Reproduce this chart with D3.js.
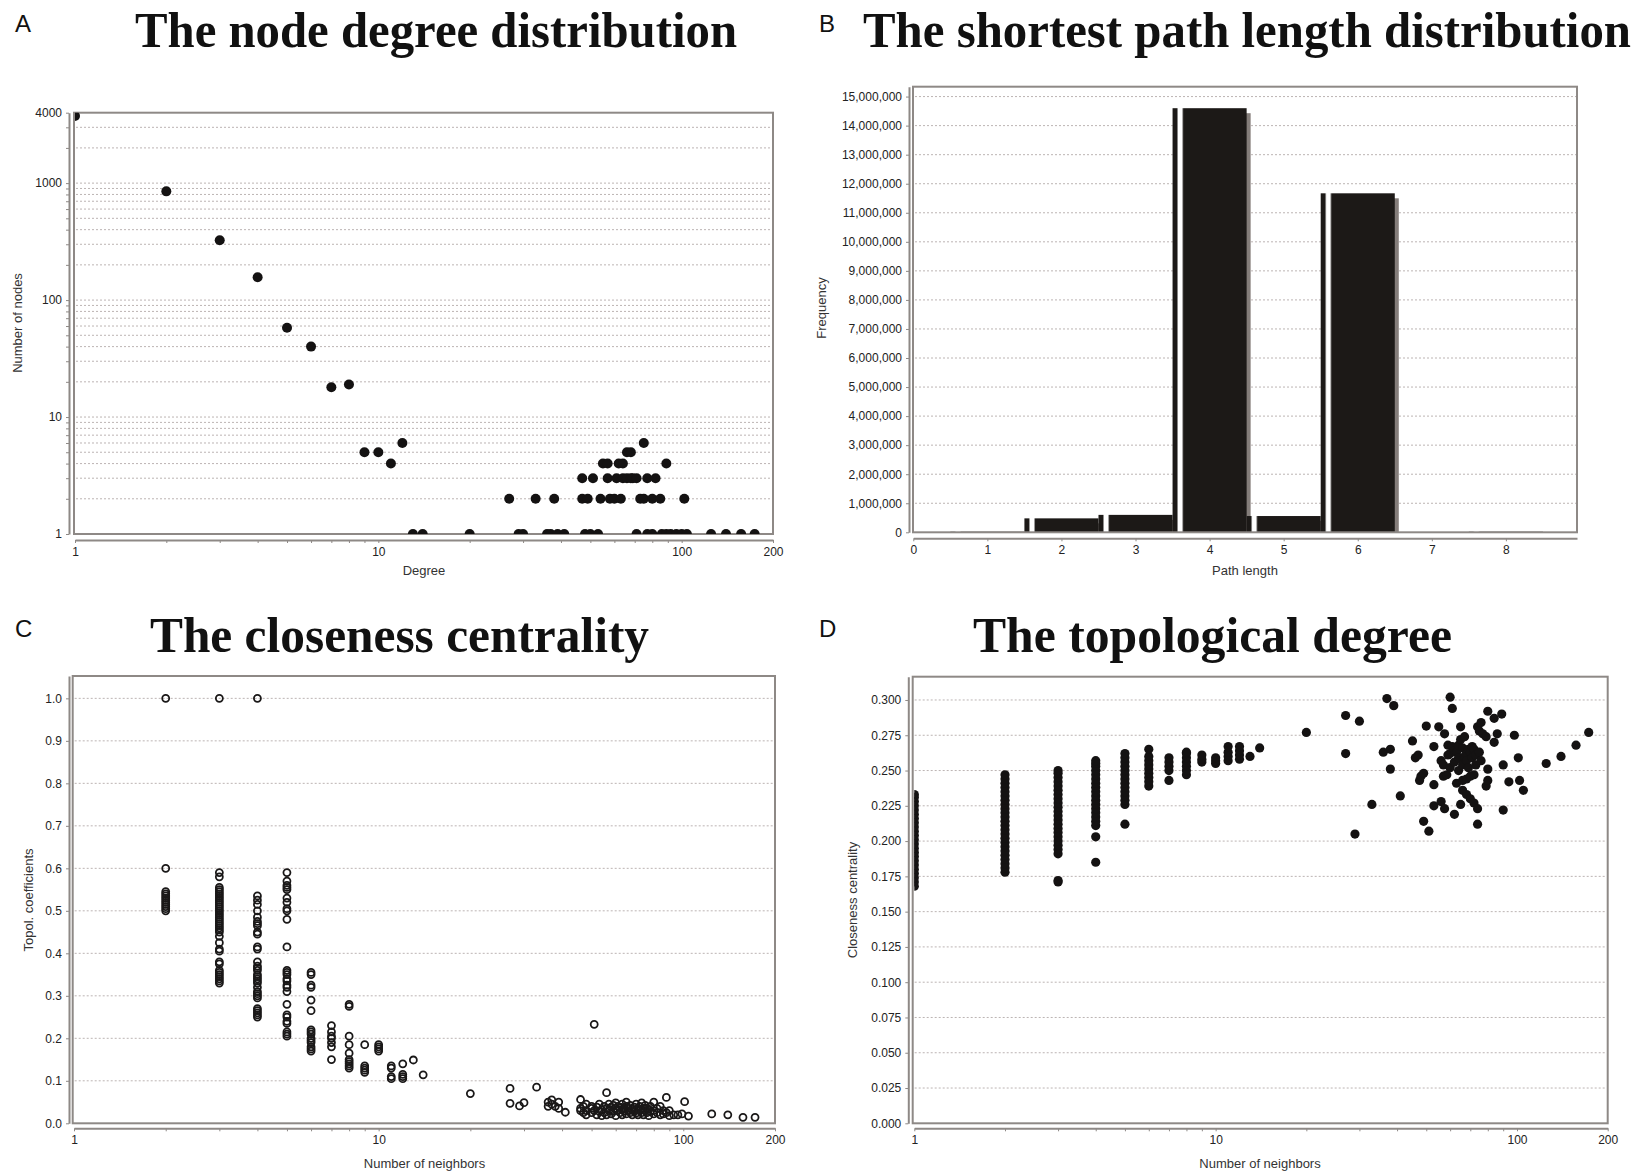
<!DOCTYPE html>
<html><head><meta charset="utf-8">
<script src="https://cdn.jsdelivr.net/npm/d3@7"></script>
<style>
body{margin:0;background:#fff;}
text{font-family:"Liberation Sans",Arial,sans-serif;}
</style>
</head><body>
<script>
// ---------- DATA ----------
// Panel A: node degree distribution
const degreeA = [1,2,3,4,5,6,7,8,9,10,11,12,
  13,14,20,29,30,36,37,39,41,48,50,53,71,77,80,86,89,92,96,100,104,125,140,157,174,
  27,33,38,47,49,54,58,60,63,73,75,80,85,102,
  47,51,57,61,64,66,68,69,71,77,82,
  55,57,62,64,89,
  66,68,
  75];
const nodesA = [3750,850,325,157,58,40,18,19,5,5,4,6,
  1,1,1,1,1,1,1,1,1,1,1,1,1,1,1,1,1,1,1,1,1,1,1,1,1,
  2,2,2,2,2,2,2,2,2,2,2,2,2,2,
  3,3,3,3,3,3,3,3,3,3,3,
  4,4,4,4,4,
  5,5,
  6];
const yLabelsA = [1,10,100,1000,4000];
const xLabelsLog = [1,10,100,200];

// Panel B: shortest path length distribution
const pathLength = [1,2,3,4,5,6,7,8];
const pathFreq = [20000,480000,600000,14600000,560000,11670000,5000,20000];

// Panel C: topological coefficients vs number of neighbours [neighbours, coefficient]
const topolPoints = [
 [2,1.0],[2,0.6],[2,0.545],[2,0.54],[2,0.535],[2,0.53],[2,0.525],[2,0.52],[2,0.515],[2,0.51],[2,0.505],[2,0.5],
 [3,1.0],[3,0.59],[3,0.58],[3,0.555],[3,0.55],[3,0.545],[3,0.54],[3,0.535],[3,0.53],[3,0.525],[3,0.52],[3,0.515],[3,0.51],[3,0.505],[3,0.5],[3,0.495],[3,0.49],[3,0.485],[3,0.48],[3,0.475],[3,0.47],[3,0.465],[3,0.46],[3,0.455],[3,0.45],[3,0.44],[3,0.425],[3,0.41],[3,0.405],[3,0.38],[3,0.375],[3,0.36],[3,0.355],[3,0.35],[3,0.345],[3,0.34],[3,0.335],[3,0.33],
 [4,1.0],[4,0.535],[4,0.525],[4,0.515],[4,0.5],[4,0.485],[4,0.475],[4,0.47],[4,0.465],[4,0.45],[4,0.445],[4,0.415],[4,0.41],[4,0.38],[4,0.37],[4,0.365],[4,0.36],[4,0.35],[4,0.345],[4,0.34],[4,0.335],[4,0.33],[4,0.32],[4,0.31],[4,0.305],[4,0.3],[4,0.295],[4,0.27],[4,0.265],[4,0.26],[4,0.255],[4,0.25],
 [5,0.59],[5,0.57],[5,0.56],[5,0.555],[5,0.55],[5,0.53],[5,0.52],[5,0.505],[5,0.5],[5,0.48],[5,0.415],[5,0.36],[5,0.355],[5,0.35],[5,0.34],[5,0.335],[5,0.325],[5,0.32],[5,0.31],[5,0.28],[5,0.255],[5,0.25],[5,0.24],[5,0.235],[5,0.215],[5,0.21],[5,0.205],
 [6,0.355],[6,0.35],[6,0.325],[6,0.32],[6,0.29],[6,0.265],[6,0.22],[6,0.215],[6,0.21],[6,0.2],[6,0.195],[6,0.19],[6,0.18],[6,0.175],[6,0.17],
 [7,0.23],[7,0.215],[7,0.205],[7,0.2],[7,0.19],[7,0.18],[7,0.15],
 [8,0.28],[8,0.275],[8,0.205],[8,0.185],[8,0.165],[8,0.15],[8,0.145],[8,0.14],[8,0.135],[8,0.13],
 [9,0.185],[9,0.135],[9,0.13],[9,0.125],[9,0.12],
 [10,0.185],[10,0.18],[10,0.175],[10,0.17],
 [11,0.135],[11,0.13],[11,0.11],[11,0.105],
 [12,0.14],[12,0.115],[12,0.11],[12,0.105],
 [13,0.149],[14,0.114],[20,0.07],[27,0.082],[27,0.047],[29,0.041],[30,0.0485],[33,0.085],
 [36,0.04],[36,0.05],[37,0.045],[37,0.055],[38,0.04],[39,0.05],[39,0.035],[41,0.026],
 [46,0.056],[46,0.035],[46,0.03],[47,0.04],[47,0.025],[48,0.045],[48,0.03],[48,0.02],
 [50,0.035],[50,0.025],[50,0.04],[51,0.233],[51,0.03],[52,0.02],[52,0.038],[53,0.045],[53,0.028],
 [54,0.032],[54,0.018],[55,0.04],[55,0.025],[56,0.072],[56,0.035],[56,0.02],[57,0.045],[57,0.03],
 [58,0.038],[58,0.022],[59,0.028],[59,0.042],[60,0.035],[60,0.018],[60,0.048],[61,0.03],[61,0.04],
 [62,0.025],[62,0.038],[63,0.045],[63,0.02],[63,0.032],[64,0.035],[64,0.028],[65,0.04],[65,0.022],[65,0.05],
 [66,0.03],[66,0.036],[67,0.025],[67,0.042],[68,0.033],[68,0.02],[69,0.038],[69,0.028],
 [70,0.045],[70,0.024],[70,0.032],[71,0.035],[71,0.02],[72,0.03],[72,0.04],[73,0.025],[73,0.048],
 [74,0.035],[74,0.02],[75,0.03],[75,0.042],[76,0.025],[76,0.036],[77,0.033],[77,0.018],[78,0.04],[78,0.028],
 [80,0.05],[80,0.03],[80,0.022],[82,0.035],[82,0.025],[84,0.04],[84,0.02],[86,0.03],[86,0.022],
 [88,0.061],[88,0.025],[90,0.018],[90,0.03],[93,0.02],[96,0.02],[99,0.022],[101,0.051],[104,0.017],
 [124,0.022],[140,0.02],[157,0.014],[172,0.014]
];
const topolTicks = [0,0.1,0.2,0.3,0.4,0.5,0.6,0.7,0.8,0.9,1.0];

// Panel D: closeness centrality vs number of neighbours [neighbours, closeness]
const closenessPoints = [
 [1,0.168],[1,0.171],[1,0.174],[1,0.177],[1,0.180],[1,0.183],[1,0.186],[1,0.189],[1,0.192],[1,0.195],[1,0.198],[1,0.201],[1,0.204],[1,0.207],[1,0.210],[1,0.213],[1,0.216],[1,0.219],[1,0.222],[1,0.225],[1,0.228],[1,0.231],[1,0.233],
 [2,0.178],[2,0.181],[2,0.184],[2,0.187],[2,0.190],[2,0.193],[2,0.196],[2,0.199],[2,0.202],[2,0.205],[2,0.208],[2,0.211],[2,0.214],[2,0.217],[2,0.220],[2,0.223],[2,0.226],[2,0.229],[2,0.232],[2,0.235],[2,0.238],[2,0.241],[2,0.244],[2,0.247],
 [3,0.171],[3,0.172],[3,0.191],[3,0.194],[3,0.197],[3,0.200],[3,0.203],[3,0.206],[3,0.209],[3,0.212],[3,0.215],[3,0.218],[3,0.221],[3,0.224],[3,0.227],[3,0.230],[3,0.233],[3,0.236],[3,0.239],[3,0.242],[3,0.245],[3,0.248],[3,0.250],
 [4,0.185],[4,0.203],[4,0.211],[4,0.214],[4,0.217],[4,0.220],[4,0.223],[4,0.226],[4,0.229],[4,0.232],[4,0.235],[4,0.238],[4,0.241],[4,0.244],[4,0.247],[4,0.250],[4,0.253],[4,0.255],[4,0.257],
 [5,0.212],[5,0.226],[5,0.229],[5,0.232],[5,0.235],[5,0.238],[5,0.241],[5,0.244],[5,0.247],[5,0.250],[5,0.253],[5,0.256],[5,0.259],[5,0.262],
 [6,0.239],[6,0.242],[6,0.245],[6,0.248],[6,0.251],[6,0.254],[6,0.257],[6,0.260],[6,0.265],
 [7,0.243],[7,0.250],[7,0.253],[7,0.256],[7,0.259],
 [8,0.247],[8,0.250],[8,0.253],[8,0.256],[8,0.259],[8,0.262],[8,0.263],
 [9,0.256],[9,0.258],[9,0.261],
 [10,0.255],[10,0.257],[10,0.259],
 [11,0.257],[11,0.260],[11,0.263],[11,0.267],
 [12,0.258],[12,0.261],[12,0.264],[12,0.267],
 [13,0.26],[14,0.266],[20,0.277],[27,0.289],[27,0.262],[29,0.205],[30,0.285],[33,0.226],
 [36,0.263],[37,0.301],[38,0.265],[38,0.251],[39,0.296],[41,0.232],[45,0.271],[46,0.259],[47,0.261],
 [47.5,0.243],[48,0.246],[49,0.248],[49,0.214],[50,0.2815],[51,0.207],[53,0.225],[53,0.267],[53,0.240],
 [55,0.281],[56,0.257],[56,0.228],[57,0.246],[57,0.254],[57.5,0.276],[57.5,0.223],[58.5,0.247],
 [59,0.268],[59,0.261],[60,0.302],[60,0.252],[60,0.262],[61,0.294],[61,0.267],[62,0.264],[62,0.219],[62,0.256],
 [63,0.263],[63,0.241],[64,0.268],[64,0.250],[64,0.259],[65,0.281],[65,0.226],[65,0.272],
 [66,0.266],[66,0.243],[66,0.236],[66,0.254],[67,0.26],[67,0.274],[68,0.262],[68,0.244],[68,0.233],[68,0.257],
 [69,0.265],[69,0.252],[70,0.246],[70,0.230],[70,0.263],[71,0.267],[71,0.259],[72,0.247],[72,0.227],[72,0.265],
 [73,0.261],[73,0.254],[74,0.281],[74,0.223],[74,0.212],[75,0.278],[75,0.263],[76,0.284],[76,0.257],
 [77,0.276],[79,0.274],[79,0.239],[80,0.292],[80,0.251],[80,0.243],[84,0.287],[84,0.270],[86,0.276],
 [89,0.290],[90,0.254],[90,0.222],[94,0.242],[98,0.275],[101,0.259],[102,0.243],[105,0.236],
 [125,0.255],[140,0.26],[157,0.268],[173,0.277]
];
const closenessTicks = [0,0.025,0.05,0.075,0.1,0.125,0.15,0.175,0.2,0.225,0.25,0.275,0.3];

// ---------- DRAWING ----------
const W = 1650, H = 1176;
const svg = d3.select("body").append("svg").attr("width", W).attr("height", H)
  .style("display","block");
const defs = svg.append("defs");

const FRAME = "#8e8986", GRID = "#bcb4b3", INK = "#141212";

function frame(g, x0, y0, x1, y1) {
  g.append("rect").attr("x", x0).attr("y", y0).attr("width", x1 - x0).attr("height", y1 - y0)
    .attr("fill", "none").attr("stroke", FRAME).attr("stroke-width", 2);
}
function grid(g, y, vals, x0, x1) {
  g.append("g").selectAll("line").data(vals).join("line")
    .attr("x1", x0 + 2).attr("x2", x1 - 1).attr("y1", d => y(d)).attr("y2", d => y(d))
    .attr("stroke", GRID).attr("stroke-width", 1).attr("stroke-dasharray", "2,2");
}
function styleAxis(a) {
  a.selectAll(".domain").attr("stroke", FRAME).attr("stroke-width", 2);
  a.selectAll(".tick line").attr("stroke", FRAME).attr("stroke-width", 1);
  a.selectAll(".tick text").attr("fill", "#222").style("font-size", "12px")
    .style("font-family", "'Liberation Sans', Arial, sans-serif");
}
function clip(id, x0, y0, x1, y1) {
  defs.append("clipPath").attr("id", id).append("rect")
    .attr("x", x0).attr("y", y0).attr("width", x1 - x0).attr("height", y1 - y0);
}
function title(txt, x, y, len) {
  svg.append("text").attr("x", x).attr("y", y).text(txt)
    .attr("textLength", len).attr("lengthAdjust", "spacingAndGlyphs")
    .style("font-family", "'Liberation Serif','Times New Roman',serif")
    .style("font-weight", "bold").style("font-size", "50px").attr("fill", "#111");
}
function letter(txt, x, y) {
  svg.append("text").attr("x", x).attr("y", y).text(txt)
    .style("font-size", "24px").attr("fill", "#111");
}
function axisTitle(txt, x, y, rot) {
  svg.append("text").attr("transform", `translate(${x},${y})` + (rot ? " rotate(-90)" : ""))
    .attr("text-anchor", "middle").attr("dominant-baseline", "middle")
    .style("font-size", "13px").attr("fill", "#333").text(txt);
}

// Titles and letters
letter("A", 15, 32); letter("B", 819, 32); letter("C", 15, 637); letter("D", 819, 637);
title("The node degree distribution", 135, 47, 602);
title("The shortest path length distribution", 863, 47, 768);
title("The closeness centrality", 150, 652, 499);
title("The topological degree", 973, 652, 479);

// ---------- Panel A ----------
{
  const g = svg.append("g");
  const x = d3.scaleLog().domain([1, 200]).range([75, 773]);
  const y = d3.scaleLog().domain([1, 4000]).range([534, 112.7]);
  grid(g, y, y.ticks().filter(d => d > 1 && d < 4000), 74, 773);
  frame(g, 74, 112.7, 773, 534);
  clip("clipA", 75, 112.7, 773, 534);
  g.append("g").attr("clip-path", "url(#clipA)").selectAll("circle")
    .data(degreeA.map((d, i) => [d, nodesA[i]])).join("circle")
    .attr("cx", d => x(d[0])).attr("cy", d => y(d[1])).attr("r", 5).attr("fill", INK);
  const ax = g.append("g").attr("transform", "translate(0,540)")
    .call(d3.axisBottom(x).tickValues(x.ticks()).tickFormat(d => xLabelsLog.includes(d) ? d : "")
      .tickSize(3).tickSizeOuter(0).tickPadding(4));
  styleAxis(ax);
  const ay = g.append("g").attr("transform", "translate(69,0)")
    .call(d3.axisLeft(y).tickValues(y.ticks()).tickFormat(d => yLabelsA.includes(d) ? d : "")
      .tickSize(3).tickSizeOuter(0).tickPadding(4));
  styleAxis(ay);
  axisTitle("Number of nodes", 19, 323, true);
  axisTitle("Degree", 424, 572, false);
}

// ---------- Panel B ----------
{
  const g = svg.append("g");
  const x = d3.scaleLinear().domain([0, 8.96]).range([913.3, 1577]);
  const y = d3.scaleLinear().domain([0, 15340000]).range([532.3, 86.7]);
  grid(g, y, y.ticks(15).filter(d => d > 0), 913, 1577);
  const grad = defs.append("linearGradient").attr("id", "barGrad")
    .attr("x1", "0").attr("x2", "1").attr("y1", "0").attr("y2", "0");
  [[0, "#1c1917"], [0.055, "#1c1917"], [0.08, "#ffffff"], [0.125, "#ffffff"], [0.15, "#1c1917"], [1, "#1c1917"]]
    .forEach(([o, c]) => grad.append("stop").attr("offset", o).attr("stop-color", c));
  clip("clipB", 913.3, 86.7, 1577, 532.3);
  const bars = g.append("g").attr("clip-path", "url(#clipB)");
  const data = pathLength.map((d, i) => [d, pathFreq[i]]);
  bars.selectAll("rect.sh").data(data).join("rect").attr("class", "sh")
    .attr("x", d => x(d[0] - 0.5) + 4).attr("y", d => y(d[1]) + 5)
    .attr("width", d => x(d[0] + 0.5) - x(d[0] - 0.5))
    .attr("height", d => Math.max(0, y(0) - y(d[1]) - 5)).attr("fill", "#847d7a");
  bars.selectAll("rect.bar").data(data).join("rect").attr("class", "bar")
    .attr("x", d => x(d[0] - 0.5)).attr("y", d => y(d[1]))
    .attr("width", d => x(d[0] + 0.5) - x(d[0] - 0.5))
    .attr("height", d => Math.max(0.8, y(0) - y(d[1]))).attr("fill", "url(#barGrad)");
  frame(g, 913, 86.7, 1577, 532.3);
  const ax = g.append("g").attr("transform", "translate(0,538.3)")
    .call(d3.axisBottom(x).tickValues(x.ticks(9).filter(d => d <= 8)).tickFormat(d3.format("d"))
      .tickSize(3).tickSizeOuter(0).tickPadding(4));
  styleAxis(ax);
  const ay = g.append("g").attr("transform", "translate(909,0)")
    .call(d3.axisLeft(y).tickValues(y.ticks(15)).tickFormat(d3.format(","))
      .tickSize(3).tickSizeOuter(0).tickPadding(4));
  styleAxis(ay);
  axisTitle("Frequency", 823, 308, true);
  axisTitle("Path length", 1245, 572, false);
}

// ---------- Panel C ----------
{
  const g = svg.append("g");
  const x = d3.scaleLog().domain([1, 200]).range([74, 775]);
  const y = d3.scaleLinear().domain([0, 1.0526]).range([1123.3, 676]);
  grid(g, y, topolTicks.filter(d => d > 0), 72.7, 775);
  frame(g, 72.7, 676, 775, 1123.3);
  clip("clipC", 74, 676, 775, 1123.3);
  g.append("g").attr("clip-path", "url(#clipC)").selectAll("circle")
    .data(topolPoints).join("circle")
    .attr("cx", d => x(d[0])).attr("cy", d => y(d[1])).attr("r", 3.5)
    .attr("fill", "none").attr("stroke", "#1a1818").attr("stroke-width", 1.8);
  const ax = g.append("g").attr("transform", "translate(0,1128.3)")
    .call(d3.axisBottom(x).tickValues(x.ticks()).tickFormat(d => xLabelsLog.includes(d) ? d : "")
      .tickSize(3).tickSizeOuter(0).tickPadding(4));
  styleAxis(ax);
  const ay = g.append("g").attr("transform", "translate(69,0)")
    .call(d3.axisLeft(y).tickValues(topolTicks).tickFormat(d3.format(".1f"))
      .tickSize(3).tickSizeOuter(0).tickPadding(4));
  styleAxis(ay);
  axisTitle("Topol. coefficients", 30, 900, true);
  axisTitle("Number of neighbors", 424.5, 1165, false);
}

// ---------- Panel D ----------
{
  const g = svg.append("g");
  const x = d3.scaleLog().domain([1, 200]).range([914.3, 1607.7]);
  const y = d3.scaleLinear().domain([0, 0.3165]).range([1123.3, 676.7]);
  grid(g, y, closenessTicks.filter(d => d > 0), 912.7, 1607.7);
  frame(g, 912.7, 676.7, 1607.7, 1123.3);
  clip("clipD", 914.3, 676.7, 1607.7, 1123.3);
  g.append("g").attr("clip-path", "url(#clipD)").selectAll("circle")
    .data(closenessPoints).join("circle")
    .attr("cx", d => x(d[0])).attr("cy", d => y(d[1])).attr("r", 4.6).attr("fill", INK);
  const ax = g.append("g").attr("transform", "translate(0,1128.3)")
    .call(d3.axisBottom(x).tickValues(x.ticks()).tickFormat(d => xLabelsLog.includes(d) ? d : "")
      .tickSize(3).tickSizeOuter(0).tickPadding(4));
  styleAxis(ax);
  const ay = g.append("g").attr("transform", "translate(908.3,0)")
    .call(d3.axisLeft(y).tickValues(closenessTicks).tickFormat(d3.format(".3f"))
      .tickSize(3).tickSizeOuter(0).tickPadding(4));
  styleAxis(ay);
  axisTitle("Closeness centrality", 854, 900, true);
  axisTitle("Number of neighbors", 1260, 1165, false);
}
</script>
</body></html>
